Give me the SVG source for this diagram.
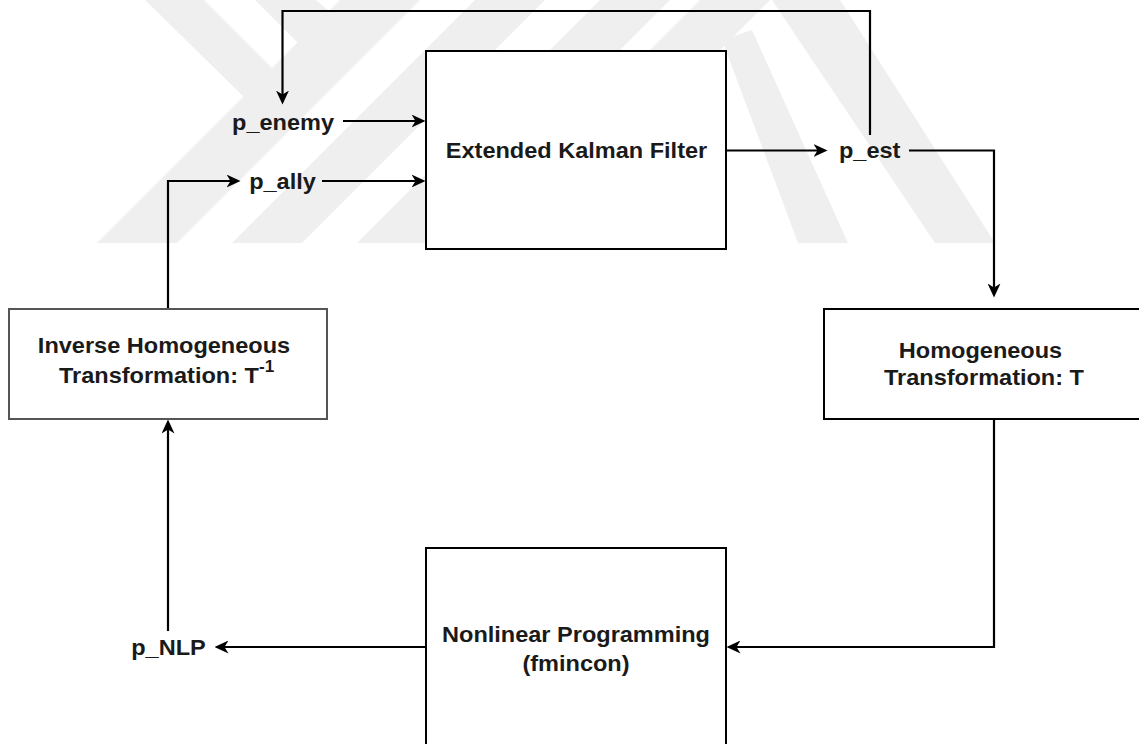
<svg xmlns="http://www.w3.org/2000/svg" width="1139" height="744" viewBox="0 0 1139 744">
  <style>
    .box { fill: #ffffff; stroke: #000000; stroke-width: 2; }
    .box-grey { fill: #ffffff; stroke: #555555; stroke-width: 2; }
    .lbl { font-family: "Liberation Sans", Arial, Helvetica, sans-serif; font-weight: bold; font-size: 22px; fill: #1a1a1a; }
    .mid { text-anchor: middle; }
    .edge { fill: none; stroke: #000000; stroke-width: 2.2; marker-end: url(#arrow); }
    .wm { fill: #efefef; stroke: none; }
  </style>
  <defs>
    <marker id="arrow" markerUnits="userSpaceOnUse" viewBox="0 0 14 13" refX="7.5" refY="6.5" markerWidth="14" markerHeight="13" orient="auto">
      <path d="M0,0 L14,6.5 L0,13 L4,6.5 Z" fill="#000000"/>
    </marker>
    <clipPath id="wmclip">
      <rect x="0" y="0" width="1139" height="243"/>
    </clipPath>
  </defs>

  <rect x="0" y="0" width="1139" height="744" fill="#ffffff"/>

  <!-- faint background watermark -->
  <g id="watermark" clip-path="url(#wmclip)">
    <polygon class="wm" points="145,0 204,0 302,98 247,100"/>
    <polygon class="wm" points="255,0 316,0 330,12 298,43"/>
    <polygon class="wm" points="340,0 420,0 177,243 97,243"/>
    <polygon class="wm" points="475,0 545,0 302,243 232,243"/>
    <polygon class="wm" points="600,0 670,0 427,243 357,243"/>
    <polygon class="wm" points="700,0 770,0 527,243 457,243"/>
    <polygon class="wm" points="772,0 840,0 995,243 935,243"/>
    <polygon class="wm" points="722,40 752,30 848,243 798,243"/>
  </g>

  <g id="connectors">
    <path class="edge" d="M870,135 V11 H282.5 V98"/>
    <path class="edge" d="M343,121 H419"/>
    <path class="edge" d="M322,181 H419"/>
    <path class="edge" d="M168,309 V181 H234"/>
    <path class="edge" d="M726,150.5 H821"/>
    <path class="edge" d="M909,150.5 H994 V291"/>
    <path class="edge" d="M994,419 V647 H733"/>
    <path class="edge" d="M426,647 H221"/>
    <path class="edge" d="M168,631 V426"/>
  </g>

  <g id="ekf">
    <rect class="box" x="426" y="51" width="300" height="198"/>
    <text class="lbl mid" transform="translate(576.5,158) scale(1.07,1)">Extended Kalman Filter</text>
  </g>

  <g id="homogeneous">
    <rect class="box" x="824" y="309" width="318" height="110"/>
    <text class="lbl mid" transform="translate(980.5,357.7) scale(1.07,1)">Homogeneous</text>
    <text class="lbl mid" transform="translate(984,385) scale(1.07,1)">Transformation: T</text>
  </g>

  <g id="nlp">
    <rect class="box" x="426" y="548" width="300" height="198"/>
    <text class="lbl mid" transform="translate(576,641.7) scale(1.07,1)">Nonlinear Programming</text>
    <text class="lbl mid" transform="translate(576,670.5) scale(1.07,1)">(fmincon)</text>
  </g>

  <g id="inverse">
    <rect class="box-grey" x="9" y="309" width="318" height="110"/>
    <text class="lbl mid" transform="translate(164,353.3) scale(1.07,1)">Inverse Homogeneous</text>
    <text class="lbl" transform="translate(59,382.7) scale(1.07,1)">Transformation: T<tspan font-size="16" dy="-11">-1</tspan></text>
  </g>

  <g id="p_enemy">
    <text class="lbl mid" transform="translate(283,129.5) scale(1.07,1)">p_enemy</text>
  </g>
  <g id="p_ally">
    <text class="lbl mid" transform="translate(282.5,189) scale(1.07,1)">p_ally</text>
  </g>
  <g id="p_est">
    <text class="lbl mid" transform="translate(869.7,158) scale(1.07,1)">p_est</text>
  </g>
  <g id="p_NLP">
    <text class="lbl mid" transform="translate(168.5,655) scale(1.07,1)">p_NLP</text>
  </g>
</svg>
